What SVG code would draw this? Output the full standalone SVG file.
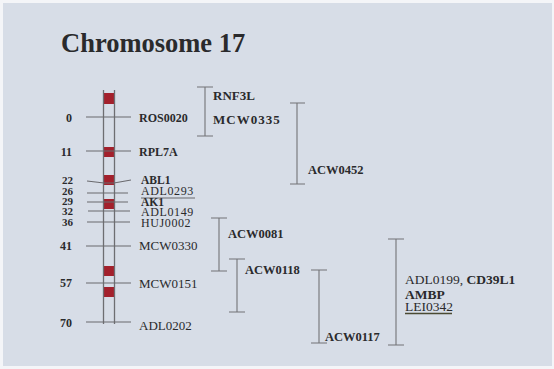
<svg xmlns="http://www.w3.org/2000/svg" width="554" height="369" viewBox="0 0 554 369">
<style>
text{font-family:"Liberation Serif","Times New Roman",serif;fill:#2a2a2c}
.num{font-size:12px;font-weight:bold;text-anchor:end}
.sn{font-size:11px}
.b{font-weight:bold}
.lab{font-size:13px}
.sl{font-size:12px;letter-spacing:0.6px}
.acw{font-size:12.5px;font-weight:bold}
.chr{stroke:#6e6e72;stroke-width:1.3;fill:none}
.tick{stroke:#6a6a6e;stroke-width:1.1;fill:none}
.br{stroke:#737377;stroke-width:1.1;fill:none}
.band{fill:#a3202c}
</style>
<rect x="0" y="0" width="554" height="369" fill="#f4f5f8"/>
<rect x="3" y="3" width="549" height="363" fill="#d7dde7"/>
<text x="61" y="52" font-size="26.5" font-weight="bold" fill="#1c1c1e">Chromosome 17</text>

<g id="chromosome">
<rect class="band" x="104" y="93" width="10" height="11"/>
<rect class="band" x="104" y="147" width="10" height="10"/>
<rect class="band" x="104" y="175" width="10" height="10"/>
<rect class="band" x="104" y="199" width="10" height="10"/>
<rect class="band" x="104" y="266" width="10" height="10"/>
<rect class="band" x="104" y="287" width="10" height="10"/>
<line class="chr" x1="103.5" y1="90" x2="103.5" y2="324"/>
<line class="chr" x1="114.5" y1="90" x2="114.5" y2="324"/>
</g>

<g id="connectors">
<line class="tick" x1="86" y1="117" x2="131" y2="117"/>
<line class="tick" x1="86" y1="151" x2="131" y2="151"/>
<polyline class="tick" points="87,181 104,183 114,183 131,180"/>
<line class="tick" x1="87" y1="193" x2="128" y2="193"/>
<line class="tick" x1="87" y1="202" x2="128" y2="202"/>
<line class="tick" x1="88" y1="211" x2="130" y2="211"/>
<line class="tick" x1="87" y1="222" x2="130" y2="222"/>
<line class="tick" x1="86" y1="246" x2="131" y2="246"/>
<line class="tick" x1="86" y1="283" x2="131" y2="283"/>
<line class="tick" x1="86" y1="322" x2="131" y2="322"/>
<line class="tick" x1="141" y1="198" x2="195" y2="198"/>

<path class="br" d="M197,87H213M205,87V136M197,136H213"/>
<path class="br" d="M290,103H305M297,103V184M290,184H305"/>
<path class="br" d="M211,218H227M219,218V271M211,271H227"/>
<path class="br" d="M229,259H245M237,259V312M229,312H245"/>
<path class="br" d="M311,270H327M319,270V343M311,343H327"/>
<path class="br" d="M388,239H404M396,239V345M388,345H404"/>
<line x1="405" y1="313.5" x2="452" y2="313.5" stroke="#4a4a32" stroke-width="1.3"/>
</g>

<g id="node-0"><text class="num" x="72" y="122">0</text><text class="b" x="139" y="122" font-size="12">ROS0020</text></g>
<g id="node-11"><text class="num" x="72" y="156">11</text><text class="b" x="139" y="156" font-size="12">RPL7A</text></g>
<g id="node-22"><text class="num sn" x="73" y="184">22</text><text class="b" x="141" y="184" font-size="11.5">ABL1</text></g>
<g id="node-26"><text class="num sn" x="73" y="195">26</text><text class="sl" x="141" y="195">ADL0293</text></g>
<g id="node-29"><text class="num sn" x="73" y="205">29</text><text class="b" x="141" y="206" font-size="11.5">AK1</text></g>
<g id="node-32"><text class="num sn" x="73" y="215">32</text><text class="sl" x="141" y="216">ADL0149</text></g>
<g id="node-36"><text class="num sn" x="73" y="226">36</text><text class="sl" x="141" y="227">HUJ0002</text></g>
<g id="node-41"><text class="num" x="72" y="250">41</text><text class="lab" x="139" y="250">MCW0330</text></g>
<g id="node-57"><text class="num" x="72" y="287">57</text><text class="lab" x="139" y="288">MCW0151</text></g>
<g id="node-70"><text class="num" x="72" y="327">70</text><text class="lab" x="139" y="330">ADL0202</text></g>

<g id="bracket-rnf3l"><text class="b" x="213" y="100" font-size="13">RNF3L</text><text class="b" x="213" y="124" font-size="13" letter-spacing="1">MCW0335</text></g>
<g id="bracket-acw0452"><text class="acw" x="308" y="174">ACW0452</text></g>
<g id="bracket-acw0081"><text class="acw" x="228" y="238">ACW0081</text></g>
<g id="bracket-acw0118"><text class="acw" x="245" y="274">ACW0118</text></g>
<g id="bracket-acw0117"><text class="acw" x="325" y="341">ACW0117</text></g>
<g id="bracket-cd39l1">
<text x="405" y="284" font-size="13.5">ADL0199, <tspan font-weight="bold">CD39L1</tspan></text>
<text class="b" x="405" y="299" font-size="13.5">AMBP</text>
<text x="405" y="311" font-size="13.5">LEI0342</text>
</g>
</svg>
